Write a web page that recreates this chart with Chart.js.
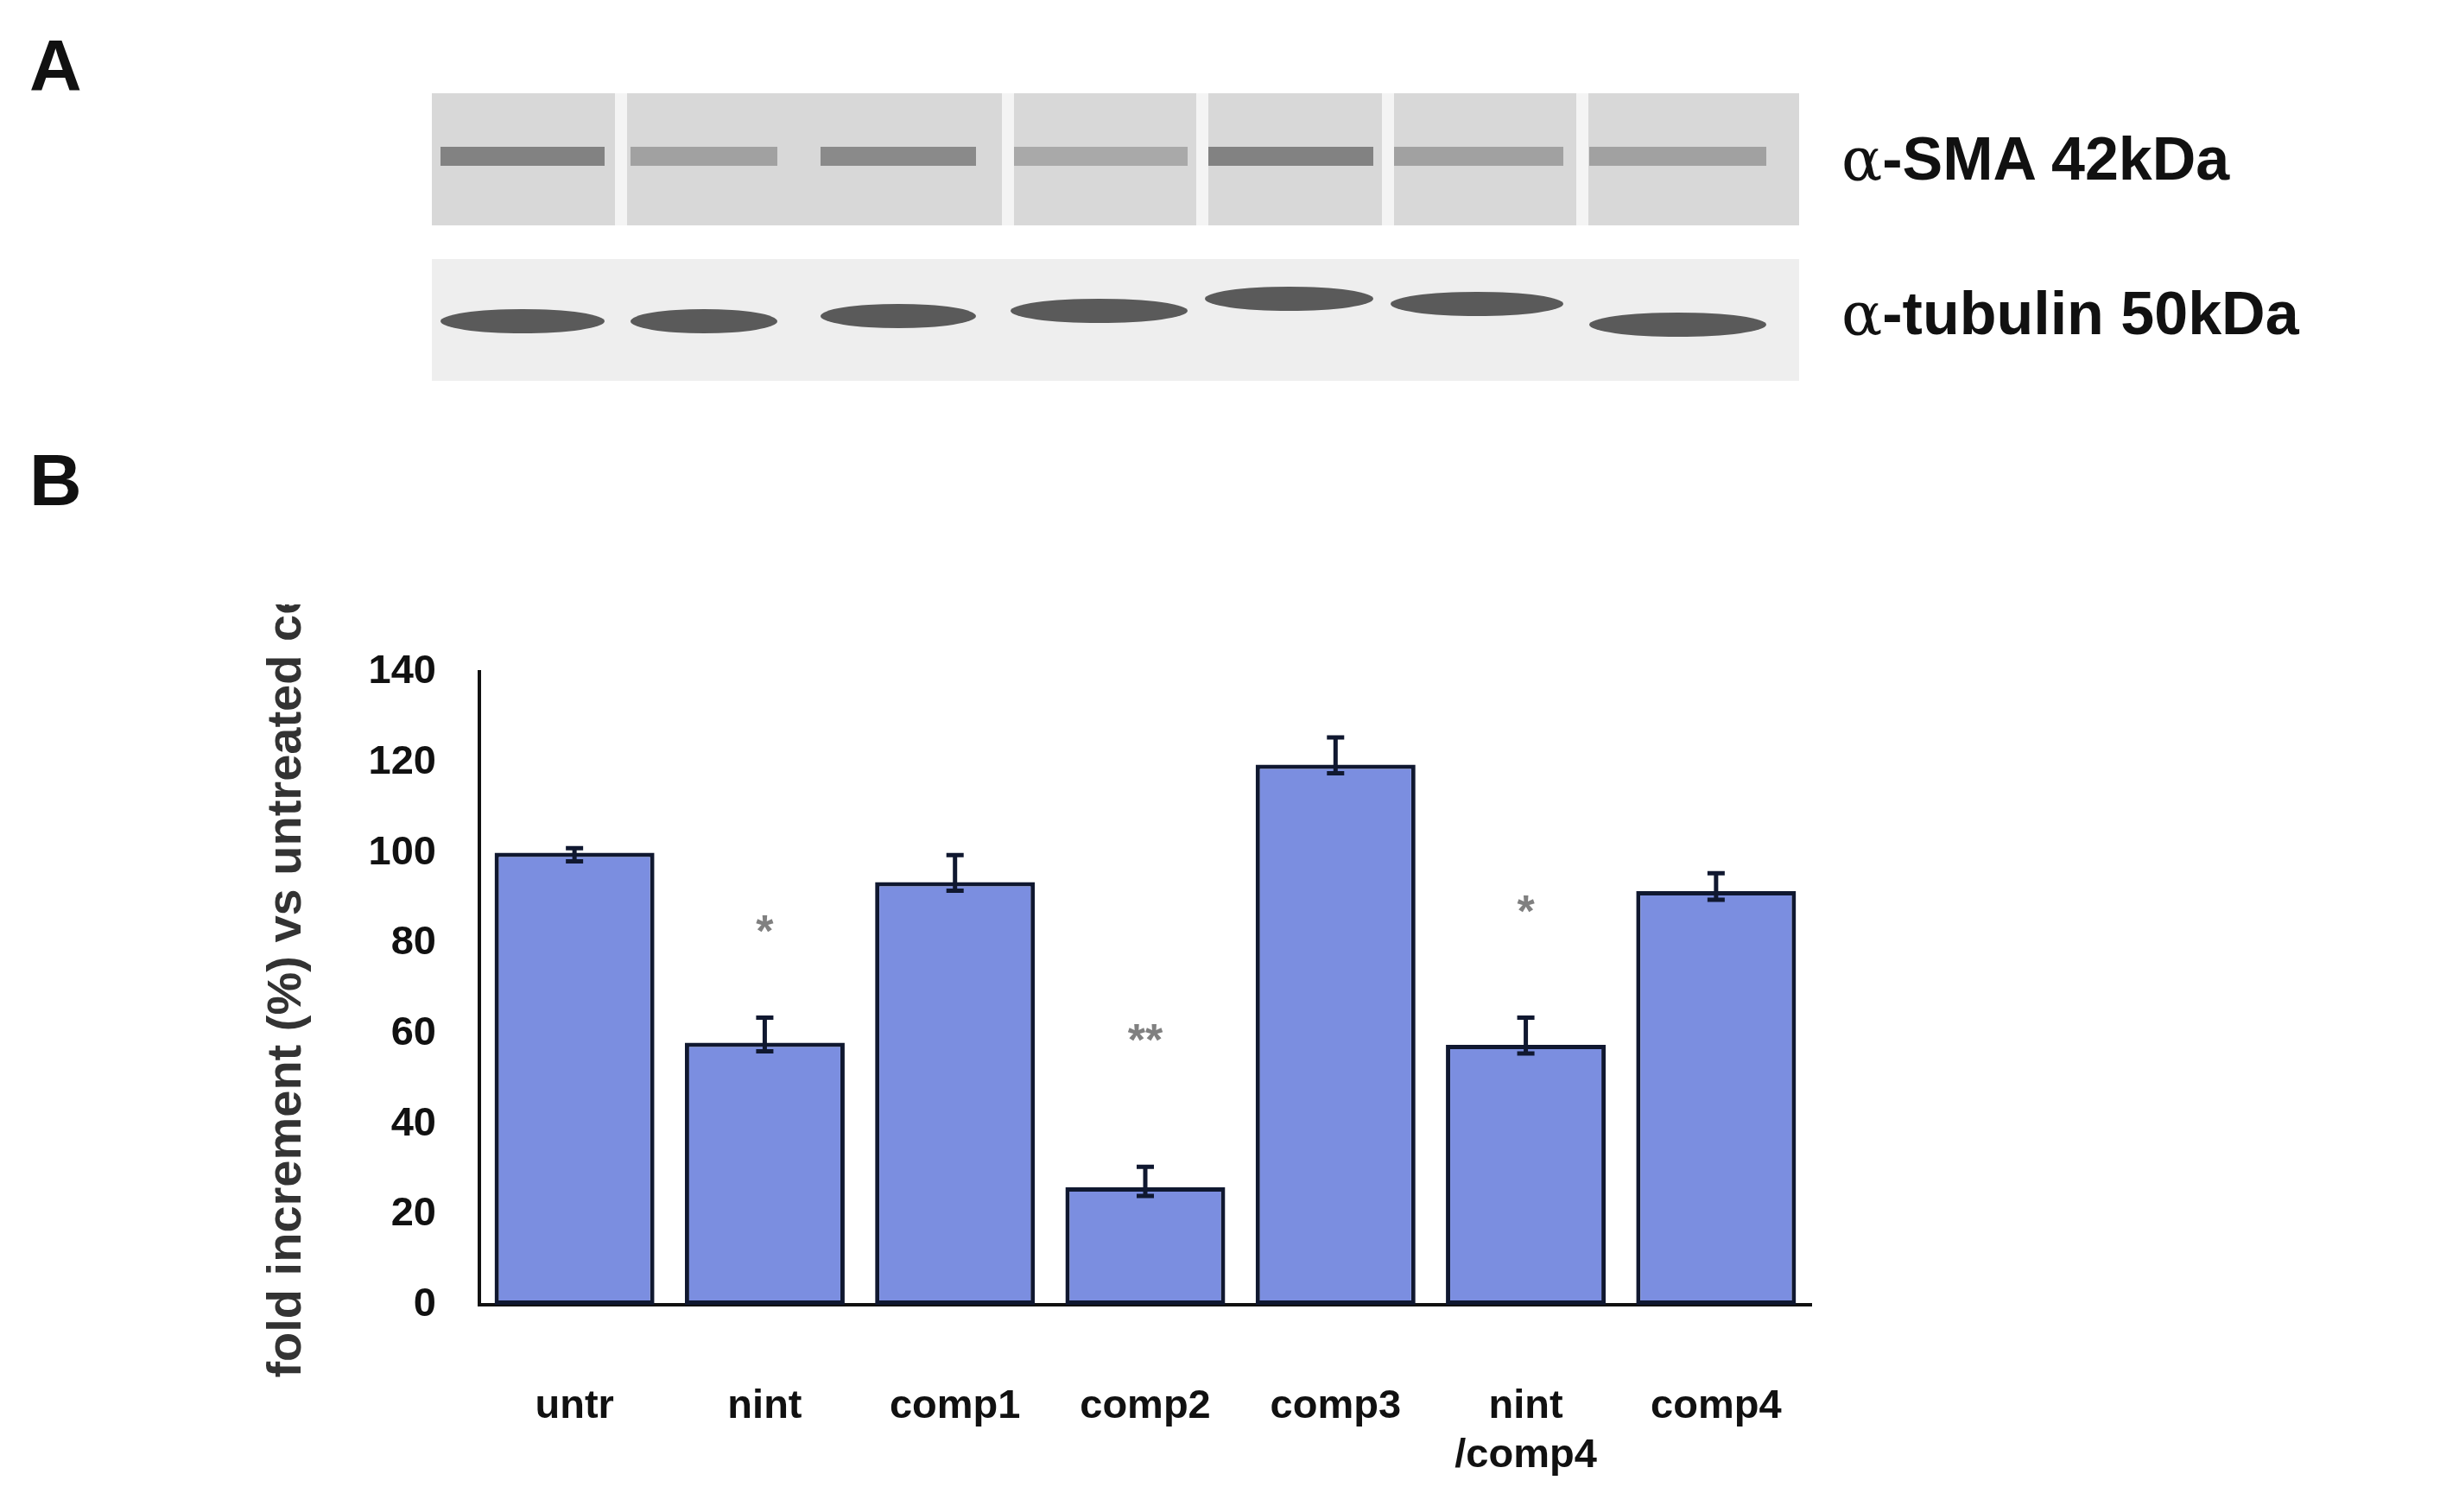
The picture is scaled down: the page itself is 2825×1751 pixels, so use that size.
<!DOCTYPE html>
<html>
<head>
<meta charset="utf-8">
<script src="https://cdn.jsdelivr.net/npm/chart.js@4"></script>
<style>
  body { margin: 0; background: #fff; width: 2825px; height: 1751px; position: relative; overflow: hidden; font-family: "Liberation Sans", Arial, sans-serif; }
  #blot { position: absolute; left: 0; top: 0; }
  #wrap { position: absolute; left: 0; top: 700px; width: 2200px; height: 1051px; }
  .lbl { position: absolute; font-weight: bold; color: #111; }
</style>
</head>
<body>
<canvas id="blot" width="2825" height="700"></canvas>
<div class="lbl" style="left:34px;top:28px;font-size:84px;">A</div>
<div class="lbl" style="left:34px;top:508px;font-size:84px;">B</div>
<div class="lbl" style="left:2132px;top:143px;font-size:70px;"><span style="font-family:'DejaVu Serif';font-weight:normal">α</span>-SMA 42kDa</div>
<div class="lbl" style="left:2132px;top:322px;font-size:70px;"><span style="font-family:'DejaVu Serif';font-weight:normal">α</span>-tubulin 50kDa</div>
<div id="wrap"><canvas id="bars"></canvas></div>
<script>
const categories = ['untr', 'nint', 'comp1', 'comp2', 'comp3', ['nint', '/comp4'], 'comp4'];
const values = [100, 58, 93.5, 26, 119.5, 57.5, 91.5];
const errors = [1, 5.5, 6, 4.5, 6, 6, 4];
const stars = ['', '*', '', '**', '', '*', ''];
const starValues = [null, 82, null, 58, null, 86.5, null];
const yTicks = [0, 20, 40, 60, 80, 100, 120, 140];

// panel A: simple sketch of the two blots
const b = document.getElementById('blot').getContext('2d');
b.fillStyle = '#d8d8d8';
b.fillRect(500, 108, 1583, 153);
b.fillStyle = '#eeeeee';
b.fillRect(500, 300, 1583, 141);
const lanes = [[510, 700], [730, 900], [950, 1130], [1170, 1375], [1395, 1590], [1610, 1810], [1840, 2045]];
const smaDark = [0.55, 0.35, 0.5, 0.3, 0.55, 0.35, 0.35];
const tubY = [372, 372, 366, 360, 346, 352, 376];
lanes.forEach((l, i) => {
    b.fillStyle = 'rgba(60,60,60,' + smaDark[i] + ')';
    b.fillRect(l[0], 170, l[1] - l[0], 22);
    b.fillStyle = 'rgba(40,40,40,0.75)';
    b.beginPath();
    b.ellipse((l[0] + l[1]) / 2, tubY[i], (l[1] - l[0]) / 2, 14, 0, 0, Math.PI * 2);
    b.fill();
});
b.fillStyle = '#f4f4f4';
[712, 1160, 1385, 1600, 1825].forEach(x => b.fillRect(x, 108, 14, 153));

const extras = {
    id: 'extras',
    afterDatasetsDraw(chart) {
        const ctx = chart.ctx;
        const x = chart.scales.x, y = chart.scales.y;
        ctx.save();
        ctx.strokeStyle = '#101830';
        ctx.lineWidth = 5;
        values.forEach((v, i) => {
            const cx = x.getPixelForValue(i);
            const top = y.getPixelForValue(v + errors[i]);
            const bot = y.getPixelForValue(v) + 10;
            ctx.beginPath();
            ctx.moveTo(cx, bot); ctx.lineTo(cx, top);
            ctx.moveTo(cx - 10, top); ctx.lineTo(cx + 10, top);
            ctx.moveTo(cx - 10, bot); ctx.lineTo(cx + 10, bot);
            ctx.stroke();
            if (stars[i]) {
                ctx.fillStyle = '#808080';
                ctx.font = 'bold 52px "Liberation Sans"';
                ctx.textAlign = 'center';
                ctx.textBaseline = 'middle';
                ctx.fillText(stars[i], cx, y.getPixelForValue(starValues[i]));
            }
        });
        ctx.translate(333, 407);
        ctx.rotate(-Math.PI / 2);
        ctx.fillStyle = '#333';
        ctx.font = 'bold 56px "Liberation Sans"';
        ctx.textAlign = 'center';
        ctx.textBaseline = 'middle';
        ctx.fillText('fold increment (%) vs untreated cells', 0, 0);
        ctx.restore();
    }
};

new Chart(document.getElementById('bars'), {
    type: 'bar',
    data: {
        labels: categories,
        datasets: [{
            data: values,
            backgroundColor: '#7b8ee0',
            borderColor: '#101830',
            borderWidth: 5,
            borderSkipped: false,
            categoryPercentage: 1,
            barPercentage: 0.84
        }]
    },
    options: {
        responsive: true,
        maintainAspectRatio: false,
        animation: false,
        layout: { padding: { top: 30, right: 103, left: 0, bottom: 0 } },
        plugins: { legend: { display: false }, tooltip: { enabled: false } },
        scales: {
            x: {
                grid: { display: false, drawTicks: false },
                border: { color: '#111', width: 4 },
                ticks: { color: '#111', font: { size: 47, weight: 'bold', family: 'Liberation Sans' }, padding: 90, maxRotation: 0 },
                afterFit: s => { s.height = 240; }
            },
            y: {
                min: 0, max: 140,
                afterBuildTicks: s => { s.ticks = yTicks.map(v => ({ value: v })); },
                grid: { display: false, drawTicks: false },
                border: { color: '#111', width: 4 },
                ticks: { color: '#111', font: { size: 47, weight: 'bold', family: 'Liberation Sans' }, padding: 50 },
                afterFit: s => { s.width = 555; }
            }
        }
    },
    plugins: [extras]
});
</script>
</body>
</html>
